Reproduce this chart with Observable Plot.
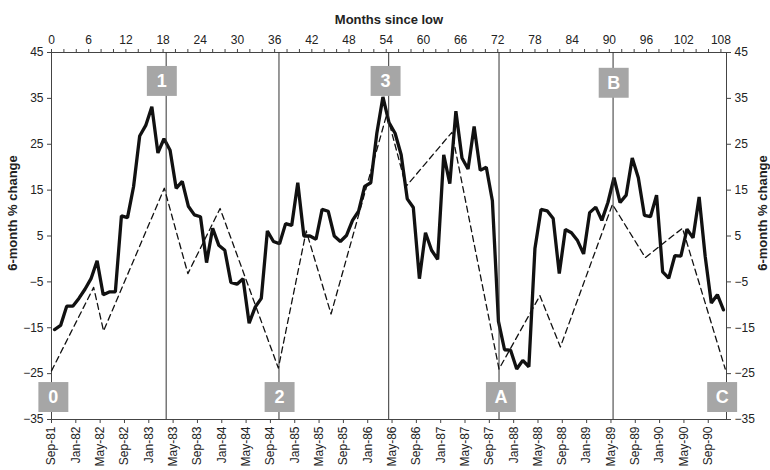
<!DOCTYPE html>
<html>
<head>
<meta charset="utf-8">
<script src="https://cdn.jsdelivr.net/npm/d3@7"></script>
<script src="https://cdn.jsdelivr.net/npm/@observablehq/plot@0.6"></script>
<style>
  html, body { margin: 0; padding: 0; background: #fff; }
  #chart { position: relative; width: 770px; height: 470px; }
  #chart svg { position: absolute; left: 0; top: 0; }
</style>
</head>
<body>
<div id="chart"></div>
<script>
// Bottom category axis: monthly, Sep-81 .. Nov-90 (111 months)
const monthLabels = ["Sep-81","Jan-82","May-82","Sep-82","Jan-83","May-83","Sep-83","Jan-84","May-84",
  "Sep-84","Jan-85","May-85","Sep-85","Jan-86","May-86","Sep-86","Jan-87","May-87","Sep-87","Jan-88",
  "May-88","Sep-88","Jan-89","May-89","Sep-89","Jan-90","May-90","Sep-90"];

// 6-month % change (solid line), one value per month from Sep-81
const actual = [
  -15.4,-14.5,-10.3,-10.3,-8.6,-6.6,-4.3,-0.4,-7.8,-7.2,
  -7.2,9.4,9.0,15.8,26.8,29.1,33.2,23.1,26.2,23.7,
  15.4,16.9,11.5,9.6,9.2,-0.8,6.7,3.0,1.9,-5.1,
  -5.5,-4.3,-14.0,-10.5,-8.6,6.1,3.8,3.3,7.7,7.3,
  16.6,5.0,5.0,4.3,10.8,10.4,5.0,3.8,5.1,8.4,
  10.4,15.8,16.6,27.4,35.3,29.7,27.4,22.7,13.1,11.2,
  -4.3,5.7,1.9,-0.1,22.7,16.4,32.2,22.0,19.6,28.9,
  19.3,20.0,12.7,-13.6,-19.8,-19.9,-24.0,-22.1,-23.5,2.3,
  10.8,10.5,8.8,-3.2,6.4,5.7,4.0,1.1,10.1,11.3,
  8.4,12.3,17.7,12.3,13.9,22.0,17.7,9.5,9.2,13.9,
  -2.8,-4.2,0.7,0.6,6.5,4.6,13.5,0.5,-9.6,-7.8,
  -11.1
];

// Idealised cycle (dashed line), on the "months since low" axis
const idealMonths = [0, 6.8, 8.4, 18.2, 22.0, 27.2, 36.6, 41.1, 45.1, 54.1, 57.2, 64.6, 72.2, 78.8, 82.1, 90.5, 95.8, 101.8, 108.7];
const idealValues = [-24.4, -6.2, -15.7, 15.4, -3.2, 11.0, -23.8, 6.1, -12.0, 31.6, 15.8, 27.6, -24.0, -8.0, -19.2, 11.9, 0.3, 6.7, -24.0];

// Turning-point markers
const turnMonths = [18.5, 36.7, 54.4, 72.2, 90.6];
const boxLabels = ["0", "1", "2", "3", "A", "B", "C"];
const boxMonths = [0.3, 17.8, 36.8, 53.9, 72.5, 90.7, 108.2];
const boxValues = [-30.1, 38.8, -30.1, 38.8, -30.1, 38.4, -30.1];

const yTicks = [-35, -25, -15, -5, 5, 15, 25, 35, 45];
const topTicks = d3.range(0, 110, 2);

const nMonths = actual.length;
const font = "'Liberation Sans', Arial, sans-serif";
const common = {
  width: 770, height: 470,
  marginLeft: 51, marginRight: 44, marginTop: 52, marginBottom: 51,
  style: {fontFamily: font, fontSize: "12px", color: "#222", background: "transparent", overflow: "visible"},
  y: {domain: [-35, 45], axis: null}
};

const solidRows = actual.map((v, i) => ({idx: i, v}));
const idealRows = idealMonths.map((m, i) => ({m, v: idealValues[i]}));
const boxRows = boxLabels.map((t, i) => ({t, m: boxMonths[i], v: boxValues[i]}));

const plotA = Plot.plot({
  ...common,
  x: {domain: [0, nMonths], axis: null},
  marks: [
    Plot.axisX({anchor: "bottom", ticks: d3.range(0, 109, 4), tickFormat: d => monthLabels[d / 4],
      tickRotate: -90, tickSize: 4, tickPadding: 3, stroke: "#444", fontSize: 12}),
    Plot.axisY({anchor: "left", ticks: yTicks, tickSize: 4, tickPadding: 4, stroke: "#444", label: null, fontSize: 12}),
    Plot.text(["6-month % change"], {frameAnchor: "left", textAnchor: "middle", dx: -39, dy: -23, rotate: -90,
      fontWeight: "bold", fontSize: 13, fill: "#222"}),
    Plot.frame({stroke: "#444"}),
    Plot.lineY(solidRows, {x: d => d.idx + 0.5, y: "v", stroke: "#111", strokeWidth: 3.3, strokeLinejoin: "miter"})
  ]
});

const plotB = Plot.plot({
  ...common,
  x: {domain: [0, 108.9], axis: null},
  marks: [
    Plot.axisX({anchor: "top", ticks: topTicks, tickFormat: d => d % 6 === 0 ? String(d) : "",
      tickSize: 4, tickPadding: 5, stroke: "#444", label: null, fontSize: 12}),
    Plot.axisY({anchor: "right", ticks: yTicks, tickSize: 4, tickPadding: 4, stroke: "#444", label: null, fontSize: 12}),
    Plot.text(["Months since low"], {frameAnchor: "top", dy: -38, fontWeight: "bold", fontSize: 13, fill: "#222"}),
    Plot.text(["6-month % change"], {frameAnchor: "right", textAnchor: "middle", dx: 36, dy: -23, rotate: -90,
      fontWeight: "bold", fontSize: 13, fill: "#222"}),
    Plot.ruleX(turnMonths, {stroke: "#333", strokeWidth: 1}),
    Plot.line(idealRows, {x: "m", y: "v", stroke: "#111", strokeWidth: 1.3, strokeDasharray: "6,4"}),
    Plot.dot(boxRows, {x: "m", y: "v", symbol: "square", r: 16.9, fill: "#a6a6a6", stroke: null}),
    Plot.text(boxRows, {x: "m", y: "v", text: "t", fill: "white", fontWeight: "bold", fontSize: 18})
  ]
});

const chart = document.getElementById("chart");
chart.appendChild(plotA);
chart.appendChild(plotB);
</script>
</body>
</html>
